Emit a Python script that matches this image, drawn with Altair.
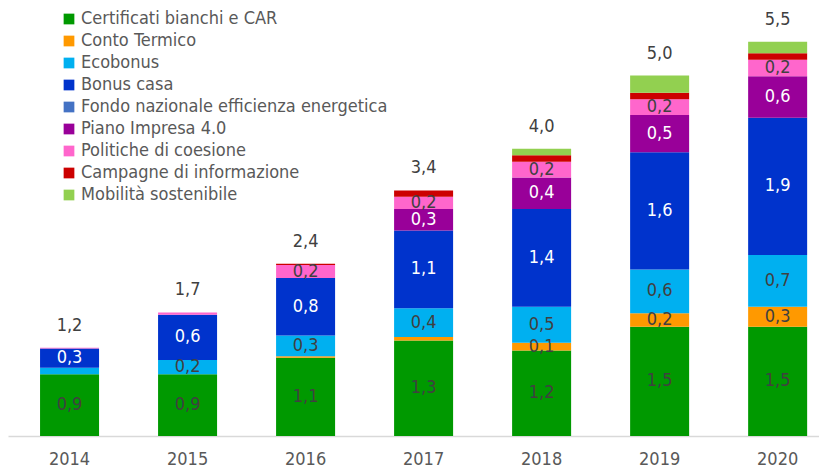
import altair as alt
import pandas as pd

years = ["2014", "2015", "2016", "2017", "2018", "2019", "2020"]
series = [
    "Certificati bianchi e CAR",
    "Conto Termico",
    "Ecobonus",
    "Bonus casa",
    "Fondo nazionale efficienza energetica",
    "Piano Impresa 4.0",
    "Politiche di coesione",
    "Campagne di informazione",
    "Mobilità sostenibile",
]
colors = ["#009900", "#FF9900", "#00B0F0", "#0033CC", "#4472C4",
          "#990099", "#FF66CC", "#CC0000", "#92D050"]

certificati = [0.86, 0.86, 1.09, 1.33, 1.19, 1.52, 1.52]
conto_termico = [0.00, 0.00, 0.02, 0.05, 0.11, 0.19, 0.28]
ecobonus = [0.09, 0.20, 0.29, 0.40, 0.50, 0.61, 0.72]
bonus_casa = [0.27, 0.63, 0.80, 1.08, 1.36, 1.63, 1.91]
fondo = [0.00, 0.00, 0.00, 0.00, 0.00, 0.00, 0.00]
piano_impresa = [0.00, 0.00, 0.00, 0.30, 0.44, 0.52, 0.58]
politiche = [0.01, 0.03, 0.18, 0.17, 0.22, 0.22, 0.23]
campagne = [0.00, 0.00, 0.02, 0.09, 0.09, 0.09, 0.09]
mobilita = [0.00, 0.00, 0.00, 0.00, 0.09, 0.24, 0.16]

values = [certificati, conto_termico, ecobonus, bonus_casa, fondo,
          piano_impresa, politiche, campagne, mobilita]
unlabeled = ["Campagne di informazione", "Mobilità sostenibile"]
white_text = ["Bonus casa", "Piano Impresa 4.0"]

rows = []
for i, (s, vals) in enumerate(zip(series, values)):
    for y, v in zip(years, vals):
        rows.append({"year": y, "series": s, "idx": i, "v": v,
                     "show": (v >= 0.095) and (s not in unlabeled),
                     "white": s in white_text})
df = pd.DataFrame(rows)

FONT = "DejaVu Sans Condensed, DejaVu Sans"
FS = 18

xscale = alt.Scale(paddingInner=0.5, paddingOuter=0.186, align=0.73)
yscale = alt.Scale(domain=[0, 5.96], nice=False, zero=True)

x_enc = alt.X("year:N", scale=xscale, sort=years, title=None,
              axis=alt.Axis(labelAngle=0, ticks=False, labelFontSize=FS,
                            labelColor="#595959", labelPadding=14,
                            domainColor="#D9D9D9", domainWidth=1.5,
                            labelFont=FONT, grid=False))

base = alt.Chart(df)

bars = base.mark_bar().encode(
    x=x_enc,
    y=alt.Y("v:Q", stack="zero", scale=yscale, axis=None),
    color=alt.Color("series:N", scale=alt.Scale(domain=series, range=colors),
                    sort=series,
                    legend=alt.Legend(title=None, orient="none", legendX=52, legendY=2,
                                      symbolType="square", symbolSize=115,
                                      symbolStrokeWidth=0, labelOffset=3,
                                      labelFontSize=FS, labelColor="#595959",
                                      labelFont=FONT, rowPadding=4,
                                      labelLimit=400)),
    order=alt.Order("idx:Q", sort="ascending"),
)

labels = base.transform_stack(
    stack="v", groupby=["year"], as_=["y0", "y1"],
    sort=[alt.SortField("idx", order="ascending")]
).transform_calculate(
    mid="(datum.y0 + datum.y1) / 2",
    lab="replace(format(datum.v, '.1f'), '.', ',')",
).transform_filter(
    "datum.show"
).mark_text(fontSize=FS, font=FONT, baseline="middle").encode(
    x=alt.X("year:N", scale=xscale, sort=years),
    y=alt.Y("mid:Q", scale=yscale),
    text="lab:N",
    color=alt.condition("datum.white", alt.value("#FFFFFF"), alt.value("#404040")),
)

totals = base.transform_aggregate(
    total="sum(v)", groupby=["year"]
).transform_calculate(
    lab="replace(format(datum.total, '.1f'), '.', ',')"
).mark_text(fontSize=FS, font=FONT, baseline="middle", dy=-22, color="#404040").encode(
    x=alt.X("year:N", scale=xscale, sort=years),
    y=alt.Y("total:Q", scale=yscale),
    text="lab:N",
)

chart = alt.layer(bars, labels, totals).properties(
    width=811, height=428,
    padding={"left": 0, "top": 0, "right": 0, "bottom": 33},
    autosize=alt.AutoSizeParams(type="none"),
).configure_view(stroke=None)

chart.save("out.html", embed_options={"renderer": "svg", "actions": False})
